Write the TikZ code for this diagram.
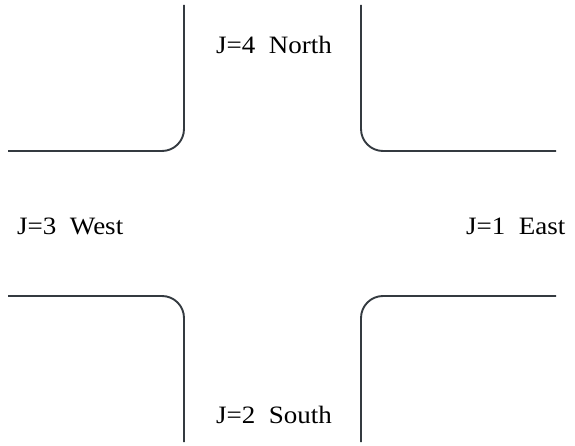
\documentclass[tikz,border=0pt]{standalone}
\usepackage{fontspec}
\newfontfamily\labfont[FakeStretch=1.08]{Liberation Serif}
\begin{document}
\begin{tikzpicture}[x=1pt,y=-1pt,
  road/.style={draw={rgb,255:red,52;green,58;blue,64},line width=1.9pt,rounded corners=22pt},
  lab/.style={font=\labfont\fontsize{25}{29}\selectfont,inner sep=0pt,anchor=base west}]
\useasboundingbox (0,0) rectangle (575,446);
\draw[road] (184,5) -- (184,151) -- (8,151);
\draw[road] (361,5) -- (361,151) -- (556,151);
\draw[road] (8,296) -- (184,296) -- (184,442);
\draw[road] (556,296) -- (361,296) -- (361,442);
\node[lab] (n) at (216,54) {J=4\ \ North};
\node[lab] (s) at (216,423) {J=2\ \ South};
\node[lab] (w) at (17,235) {J=3\ \ West};
\node[lab] (e) at (466,235) {J=1\ \ East};
\end{tikzpicture}
\end{document}
